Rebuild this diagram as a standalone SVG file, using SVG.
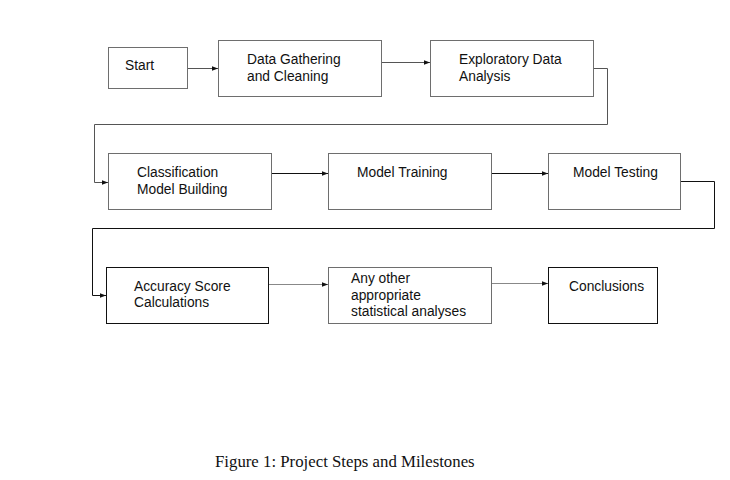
<svg xmlns="http://www.w3.org/2000/svg" width="730" height="480" viewBox="0 0 730 480">
<style>
.box{fill:#fff;stroke:#6e6e6e;stroke-width:1}
.dark{stroke:#111}
.t{font-family:"Liberation Sans",Arial,sans-serif;font-size:13.8px;fill:#111}
.c{fill:none;stroke:#555;stroke-width:1}
.cd{stroke:#111}
.cap{font-family:"Liberation Serif","Times New Roman",serif;font-size:16.8px;fill:#111}
</style>
<defs>
<marker id="ah" markerWidth="6" markerHeight="6" refX="6" refY="3" orient="auto" markerUnits="userSpaceOnUse">
<path d="M0,0.8 L6,3 L0,5.2 Z" fill="#111"/>
</marker>
</defs>
<rect width="730" height="480" fill="#fff"/>
<g id="connectors">
<path class="c" d="M187.5,68.5 H218" marker-end="url(#ah)"/>
<path class="c" d="M381.5,62.5 H430" marker-end="url(#ah)"/>
<path class="c" d="M593.5,68.5 H607.5 V124.5 H94.5 V182.5 H108" marker-end="url(#ah)"/>
<path class="c cd" d="M271.5,173.5 H328" marker-end="url(#ah)"/>
<path class="c cd" d="M491.5,173.5 H548" marker-end="url(#ah)"/>
<path class="c cd" d="M680.5,181.5 H714.5 V228.5 H92.5 V295.5 H106" marker-end="url(#ah)"/>
<path class="c" style="stroke:#888" d="M268.5,284.5 H328" marker-end="url(#ah)"/>
<path class="c" style="stroke:#888" d="M491.5,283.5 H548" marker-end="url(#ah)"/>
</g>
<g id="start"><rect class="box" x="108.5" y="47.5" width="79" height="41"/><text class="t" x="125" y="70">Start</text></g>
<g id="gather"><rect class="box" x="218.5" y="40.5" width="163" height="56"/><text class="t" x="247" y="64">Data Gathering</text><text class="t" x="247" y="81">and Cleaning</text></g>
<g id="eda"><rect class="box" x="430.5" y="40.5" width="163" height="56"/><text class="t" x="459" y="64">Exploratory Data</text><text class="t" x="459" y="81">Analysis</text></g>
<g id="classification"><rect class="box" x="108.5" y="153.5" width="163" height="56"/><text class="t" x="137" y="177">Classification</text><text class="t" x="137" y="194">Model Building</text></g>
<g id="training"><rect class="box" x="328.5" y="153.5" width="163" height="56"/><text class="t" x="357" y="177">Model Training</text></g>
<g id="testing"><rect class="box" x="548.5" y="153.5" width="132" height="56"/><text class="t" x="573" y="177">Model Testing</text></g>
<g id="accuracy"><rect class="box dark" x="106.5" y="267.5" width="162" height="56"/><text class="t" x="134" y="291">Accuracy Score</text><text class="t" x="134" y="307">Calculations</text></g>
<g id="other"><rect class="box" x="328.5" y="267.5" width="163" height="56"/><text class="t" x="351" y="283">Any other</text><text class="t" x="351" y="300">appropriate</text><text class="t" x="351" y="316">statistical analyses</text></g>
<g id="conclusions"><rect class="box dark" x="548.5" y="267.5" width="109" height="56"/><text class="t" x="569" y="291">Conclusions</text></g>
<text class="cap" x="215" y="467">Figure 1: Project Steps and Milestones</text>
</svg>
